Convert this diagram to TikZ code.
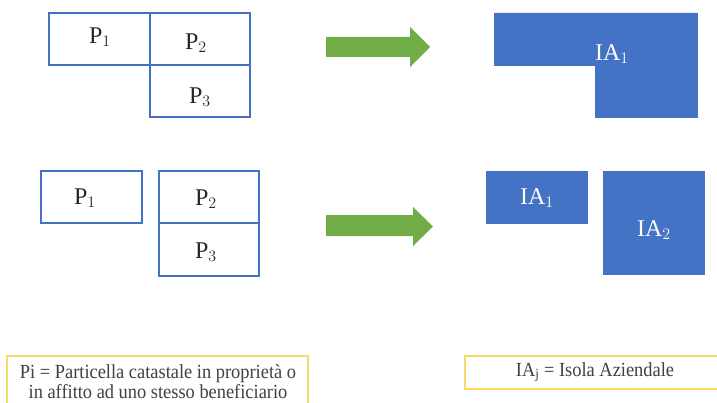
\documentclass[tikz,border=0pt]{standalone}
\usepackage{fontspec}
\setmainfont{Liberation Serif}
\definecolor{pblue}{HTML}{4472C4}
\definecolor{agreen}{HTML}{70AD47}
\definecolor{lyellow}{HTML}{FFD966}
\definecolor{ptext}{HTML}{262626}
\definecolor{ltext}{HTML}{404040}
\begin{document}
\begin{tikzpicture}[x=0.75pt,y=-0.75pt,
  parcel/.style={draw=pblue,line width=1.5pt},
  island/.style={fill=pblue,draw=pblue},
  plabel/.style={text=ptext,font=\fontsize{18}{20}\selectfont,inner sep=0pt},
  ialabel/.style={text=white,font=\fontsize{18}{20}\selectfont,inner sep=0pt},
  bigarrow/.style={fill=agreen,draw=none},
  legend/.style={draw=lyellow,line width=1.2pt},
  ltxt/.style={text=ltext,font=\fontsize{15}{15}\selectfont,inner sep=0pt,align=center,xscale=0.92}]
\useasboundingbox (0,0) rectangle (717,403);
% top row parcels
\draw[parcel] (49,13) rectangle (150,65);
\draw[parcel] (150,13) rectangle (250,65);
\draw[parcel] (150,65) rectangle (250,117);
\node[plabel] (tp1) at (100,37) {P$_1$};
\node[plabel] (tp2) at (196,43) {P$_2$};
\node[plabel] (tp3) at (200,97) {P$_3$};
% top arrow
\fill[bigarrow] (326,37) -- (410,37) -- (410,27) -- (430,47) -- (410,67) -- (410,57) -- (326,57) -- cycle;
% top island
\filldraw[island] (494,13) -- (697,13) -- (697,117) -- (595,117) -- (595,65) -- (494,65) -- cycle;
\node[ialabel] (tia1) at (612,54) {IA$_1$};
% bottom parcels
\draw[parcel] (41,171) rectangle (142,223);
\draw[parcel] (159,171) rectangle (259,223);
\draw[parcel] (159,223) rectangle (259,276);
\node[plabel] (bp1) at (85,198) {P$_1$};
\node[plabel] (bp2) at (206,199) {P$_2$};
\node[plabel] (bp3) at (206,252) {P$_3$};
% bottom arrow
\fill[bigarrow] (326,215) -- (413,215) -- (413,207) -- (433,226.5) -- (413,246) -- (413,236) -- (326,236) -- cycle;
% bottom islands
\filldraw[island] (486,171) rectangle (587,223);
\filldraw[island] (603,171) rectangle (704,274);
\node[ialabel] (bia1) at (537,198) {IA$_1$};
\node[ialabel] (bia2) at (654,230) {IA$_2$};
% legends
\draw[legend] (7,410) -- (7,356) -- (308,356) -- (308,410);
\node[ltxt] (leg1) at (158,381.5) {Pi = Particella catastale in proprietà o\\in affitto ad uno stesso beneficiario};
\draw[legend] (725,389) -- (465,389) -- (465,356) -- (725,356);
\node[ltxt] (leg2) at (595,372) {IA$_{\mathrm{j}}$ = Isola Aziendale};
\end{tikzpicture}
\end{document}
